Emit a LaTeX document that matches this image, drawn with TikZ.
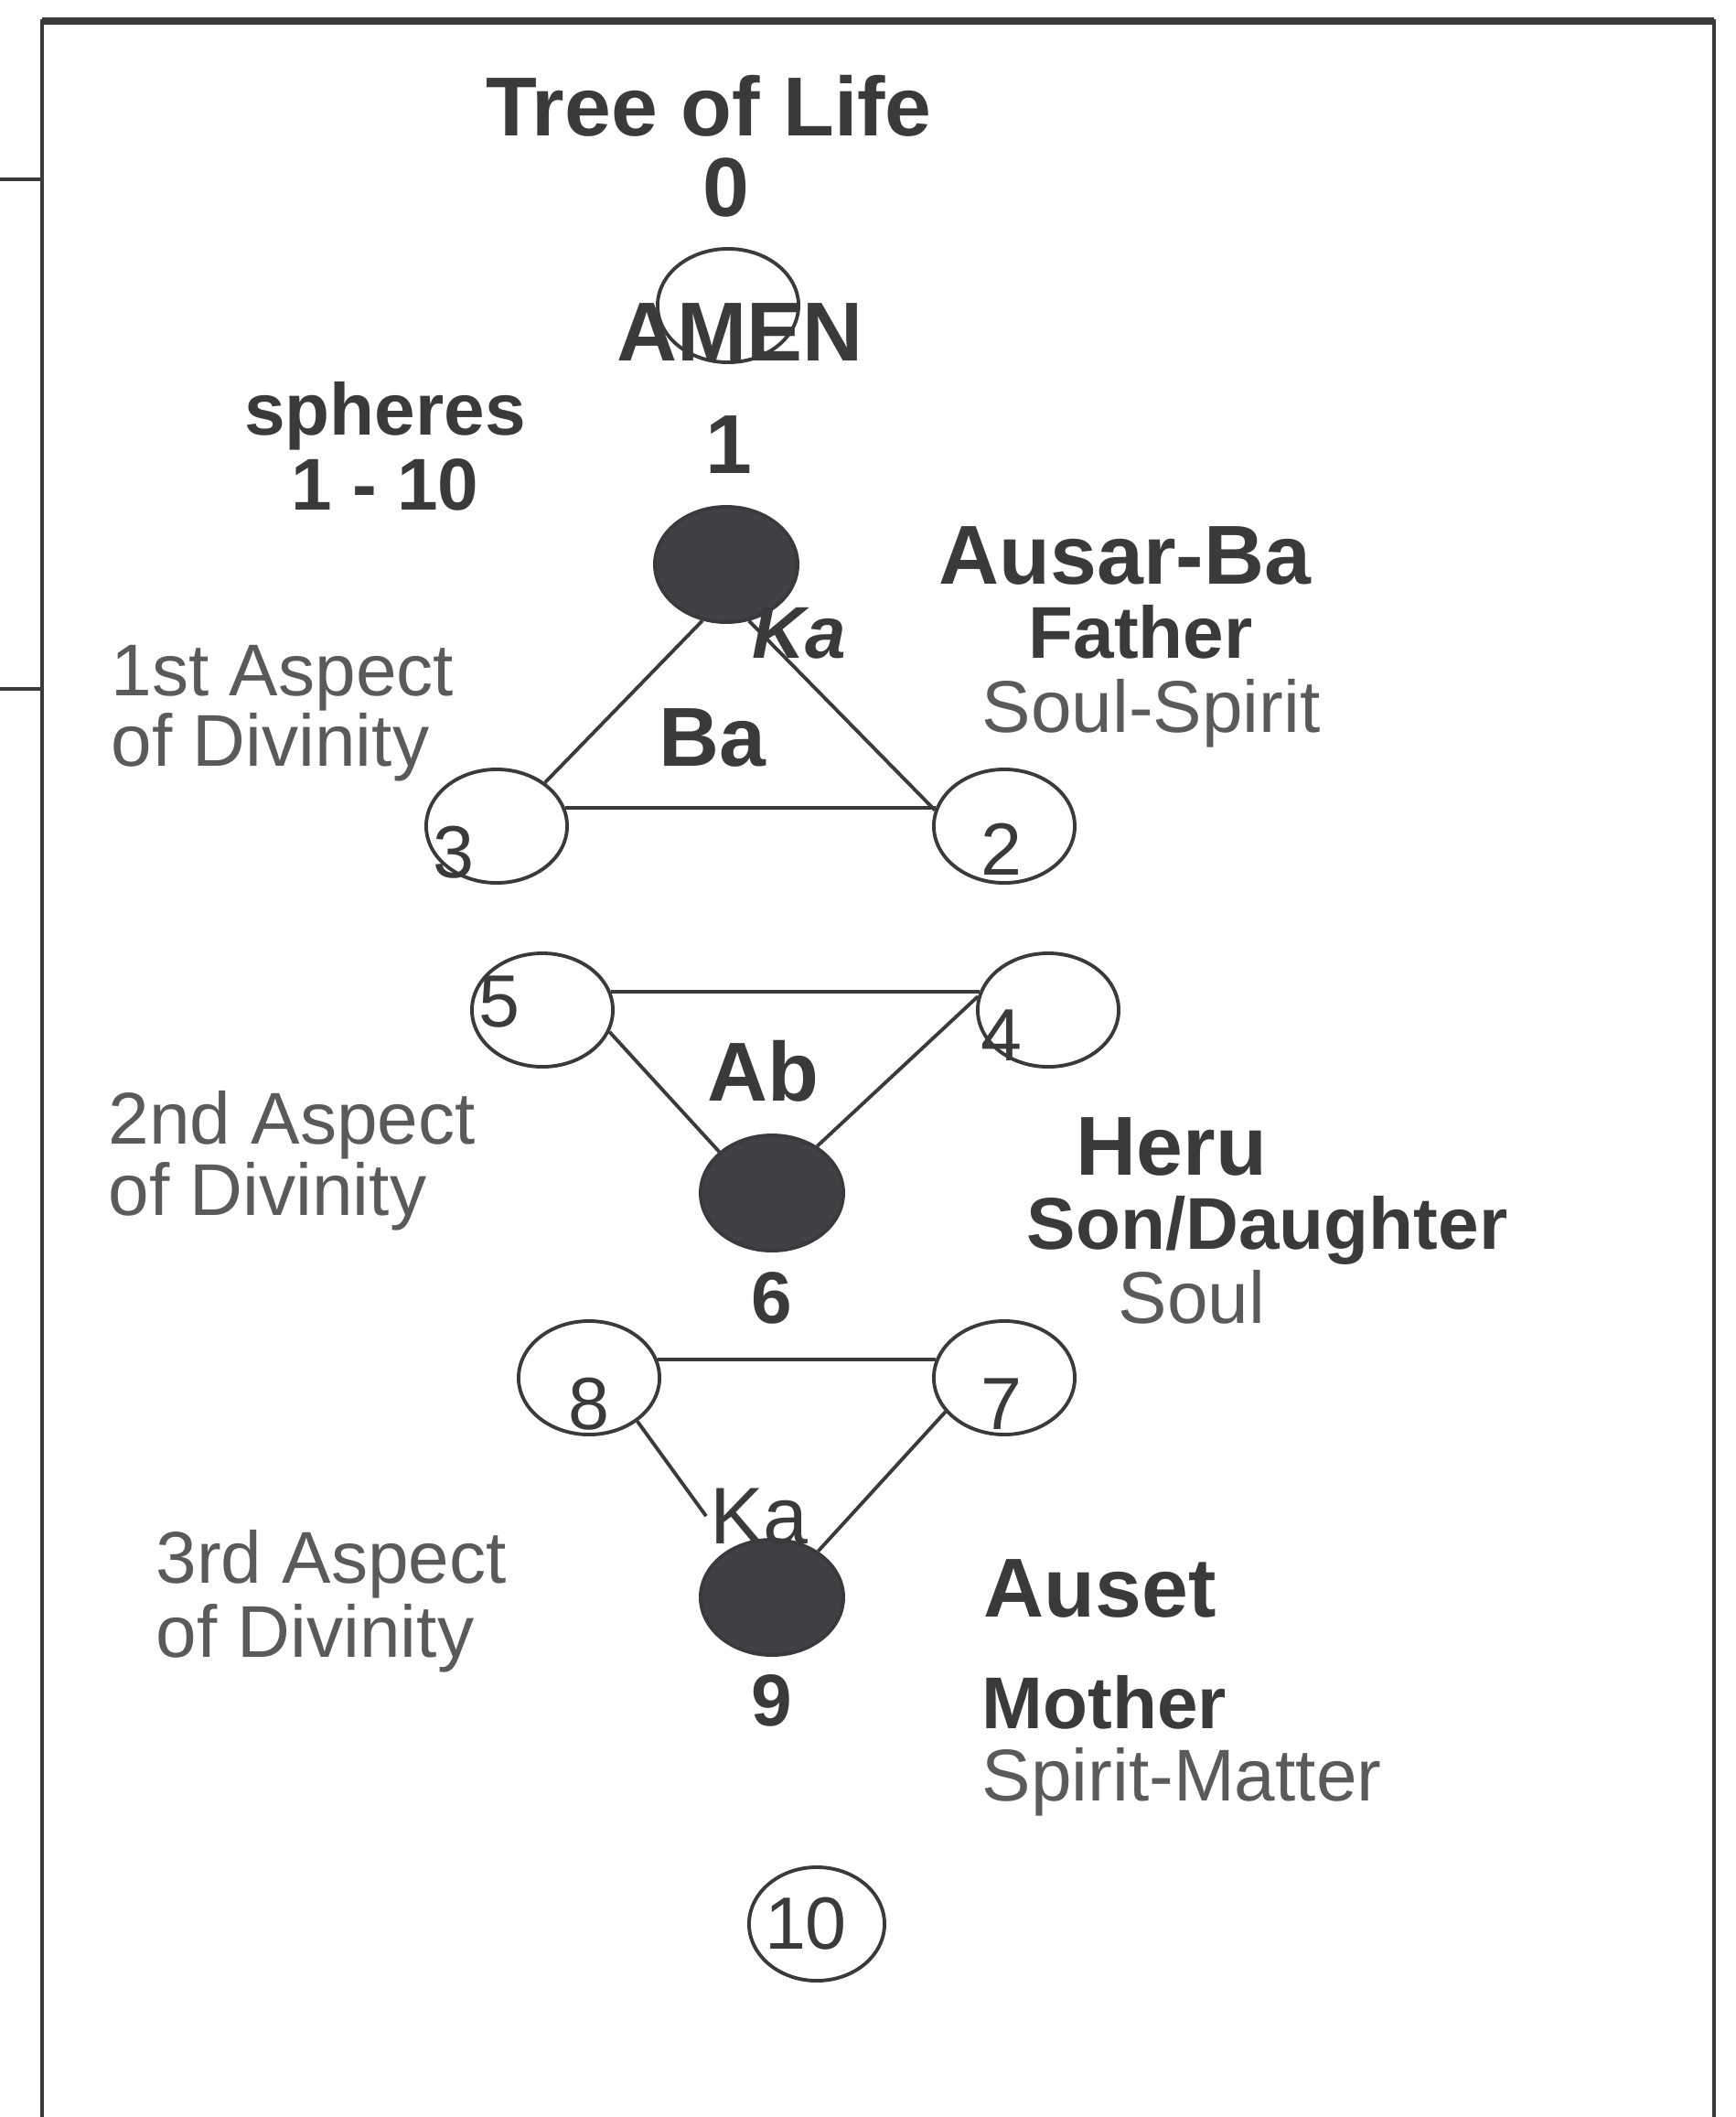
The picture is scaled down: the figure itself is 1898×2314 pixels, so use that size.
\documentclass[tikz,border=0pt]{standalone}
\usepackage{fontspec}
\setmainfont{Liberation Sans}
\usepackage{tikz}
\usetikzlibrary{shapes.geometric}
\definecolor{inkdark}{HTML}{3A393C}
\definecolor{inkgray}{HTML}{5A595C}
\definecolor{spherefill}{HTML}{414044}

\begin{document}
\begin{tikzpicture}[x=0.01cm,y=-0.01cm,
  sphere/.style={draw=inkdark,line width=1.1pt,ellipse,minimum width=1.54cm,minimum height=1.24cm,inner sep=0pt},
  fullsphere/.style={sphere,fill=spherefill,minimum width=1.56cm,minimum height=1.26cm},
  txt/.style={inner sep=0pt,text=inkdark},
  bigtxt/.style={txt,font=\fontsize{26}{30}\selectfont\bfseries},
  boldtxt/.style={txt,font=\fontsize{22.8}{27}\selectfont\bfseries},
  plaintxt/.style={txt,text=inkgray,font=\fontsize{22.8}{27}\selectfont},
  numtxt/.style={txt,font=\fontsize{23}{27}\selectfont},
  link/.style={draw=inkdark,line width=1.1pt}]
\useasboundingbox (0,0) rectangle (1898,2314);

% frame
\draw[inkdark,line width=1.3pt] (46,2314) -- (46,23) -- (1874,23) -- (1874,2314);
\draw[inkdark,line width=2.2pt] (46,23) -- (1874,23);
\draw[inkdark,line width=1.3pt] (0,196) -- (46,196);
\draw[inkdark,line width=1.3pt] (0,753) -- (46,753);

% spheres
\node[sphere] (s0) at (796,334) {};
\node[fullsphere] (s1) at (794,617) {};
\node[sphere] (s2) at (1098,903) {};
\node[sphere] (s3) at (543,903) {};
\node[sphere] (s4) at (1146,1104) {};
\node[sphere] (s5) at (593,1104) {};
\node[fullsphere] (s6) at (844,1304) {};
\node[sphere] (s7) at (1098,1506) {};
\node[sphere] (s8) at (644,1506) {};
\node[fullsphere] (s9) at (844,1746) {};
\node[sphere,minimum width=1.48cm] (s10) at (893,2103) {};

% paths
\draw[link] (s1.247) -- (s3.42);
\draw[link] (s1.292) -- (s2.167);
\draw[link] (s3.15) -- (s2.165);
\draw[link] (s5.15) -- (s4.165);
\draw[link] (s5.-18) -- (s6.142);
\draw[link] (s4.169) -- (s6.46);
\draw[link] (s8.15) -- (s7.165);
\draw[link] (s7.210) -- (s9.45);

% labels
\node[bigtxt,anchor=base] (title) at (775,148) {Tree of Life};
\node[bigtxt,anchor=base] (n0) at (794,236) {0};
\node[bigtxt,anchor=base] (amen) at (809,394) {AMEN};
\node[boldtxt,anchor=base] (sph) at (421,475) {spheres};
\node[boldtxt,anchor=base] (range) at (421,557) {1 - 10};
\node[bigtxt,anchor=base] (n1) at (797,517) {1};

\node[bigtxt,anchor=base west] (ausar) at (1026,638) {Ausar-Ba};
\node[boldtxt,anchor=base] (father) at (1247,719) {Father};
\node[plaintxt,anchor=base west] (soulspirit) at (1073,800) {Soul-Spirit};
\node[boldtxt,font=\fontsize{22.8}{27}\selectfont\bfseries\itshape,anchor=base] (ka1) at (874,719) {Ka};
\node[plaintxt,anchor=base west] (asp1a) at (121,760) {1st Aspect};
\node[plaintxt,anchor=base west] (asp1b) at (121,837) {of Divinity};
\node[bigtxt,anchor=base] (ba) at (779,837) {Ba};
\node[numtxt,anchor=base] (n3) at (496,959) {3};
\node[numtxt,anchor=base] (n2) at (1095,956) {2};

\node[numtxt,anchor=base] (n5) at (546,1122) {5};
\node[numtxt,anchor=base] (n4) at (1095,1159) {4};
\node[bigtxt,anchor=base] (ab) at (834,1203) {Ab};
\node[plaintxt,anchor=base west] (asp2a) at (118,1250) {2nd Aspect};
\node[plaintxt,anchor=base west] (asp2b) at (118,1328) {of Divinity};
\node[bigtxt,anchor=base west] (heru) at (1176,1284) {Heru};
\node[boldtxt,anchor=base west] (child) at (1122,1365) {Son/Daughter};
\node[plaintxt,anchor=base west] (soul) at (1222,1446) {Soul};
\node[boldtxt,anchor=base] (n6) at (844,1446) {6};

\node[numtxt,anchor=base] (n8) at (644,1562) {8};
\node[numtxt,anchor=base] (n7) at (1095,1562) {7};
\node[txt,font=\fontsize{25}{29}\selectfont,anchor=base,inner sep=1pt] (ka3) at (830,1687) {Ka};
\node[plaintxt,anchor=base west] (asp3a) at (170,1730) {3rd Aspect};
\node[plaintxt,anchor=base west] (asp3b) at (170,1811) {of Divinity};
\node[bigtxt,anchor=base west] (auset) at (1075,1767) {Auset};
\node[boldtxt,anchor=base] (n9) at (844,1886) {9};
\node[boldtxt,anchor=base west] (mother) at (1073,1889) {Mother};
\node[plaintxt,anchor=base west] (spmatter) at (1073,1968) {Spirit-Matter};
\node[numtxt,anchor=base] (n10) at (881,2130) {10};

\draw[link] (s8.-42) -- (ka3.west);
\end{tikzpicture}
\end{document}
